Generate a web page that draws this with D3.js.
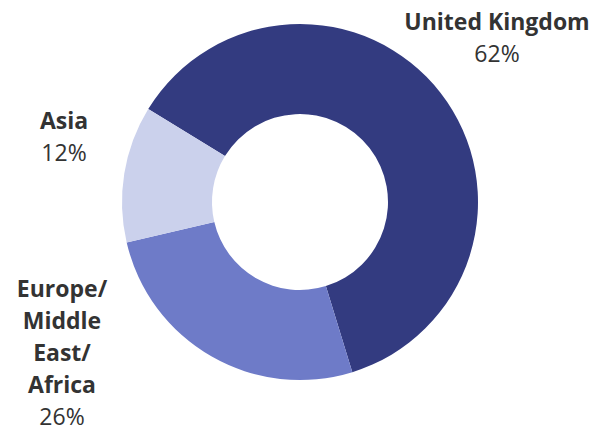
<!DOCTYPE html>
<html>
<head>
<meta charset="utf-8">
<script src="https://cdn.jsdelivr.net/npm/d3@7"></script>
<style>
  body { margin: 0; background: #fff; }
  svg { display: block; font-family: "Open Sans", sans-serif; }
</style>
</head>
<body>
<div id="viz"></div>
<script>
// regions, shares and colours, in drawing order (clockwise)
const regions = ["United Kingdom", "Europe/Middle East/Africa", "Asia"];
const shares = [61.5, 26.1, 12.4];
const colours = ["#333b80", "#6e7bc8", "#cbd1ec"];
// label lines for each region
const labelLines = [["United Kingdom"], ["Europe/", "Middle", "East/", "Africa"], ["Asia"]];

const width = 597, height = 428;
const cx = 300, cy = 202, outerR = 178, innerR = 88;

const svg = d3.select("#viz").append("svg")
  .attr("width", width)
  .attr("height", height);

const g = svg.append("g").attr("transform", `translate(${cx},${cy})`);

const data = regions.map((r, i) => ({ region: r, value: shares[i], colour: colours[i], lines: labelLines[i] }));

const start = -58.5 * Math.PI / 180;
const pie = d3.pie().value(d => d.value).sort(null)
  .startAngle(start).endAngle(start + 2 * Math.PI);

const arc = d3.arc().innerRadius(innerR).outerRadius(outerR);

g.selectAll("path")
  .data(pie(data))
  .join("path")
  .attr("d", arc)
  .attr("fill", d => d.data.colour);

// label anchors (centre x, first baseline)
const labelPos = { "United Kingdom": [497, 30], "Europe/Middle East/Africa": [62, 297], "Asia": [64, 129] };
const lineH = 32;

data.forEach(d => {
  const [x, y] = labelPos[d.region];
  const t = svg.append("text")
    .attr("text-anchor", "middle")
    .attr("fill", "#333")
    .style("font-size", "23px");
  d.lines.forEach((line, i) => {
    t.append("tspan")
      .attr("x", x)
      .attr("y", y + i * lineH)
      .attr("font-weight", "bold")
      .text(line);
  });
  t.append("tspan")
    .attr("x", x)
    .attr("y", y + d.lines.length * lineH)
    .text(Math.round(d.value) + "%");
});
</script>
</body>
</html>
